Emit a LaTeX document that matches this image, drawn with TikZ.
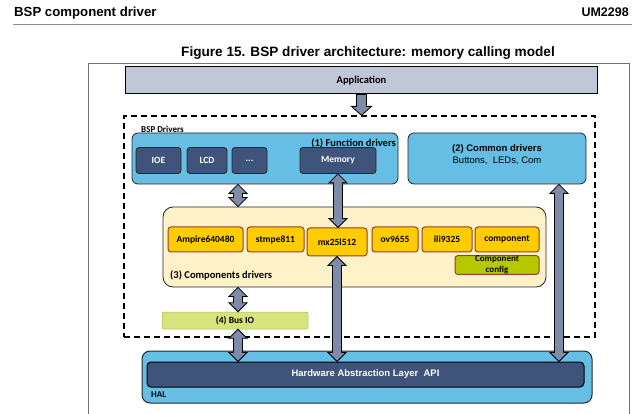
\documentclass[tikz,border=0pt]{standalone}
\usepackage{fontspec}
\setmainfont{Liberation Sans}
\newfontfamily\carlito{Carlito}
\usepackage{tikz}
\usetikzlibrary{calc}
\definecolor{skyblue}{RGB}{102,190,228}
\definecolor{navy}{RGB}{63,84,122}
\definecolor{appgray}{RGB}{192,199,214}
\definecolor{compbg}{RGB}{255,242,200}
\definecolor{compyellow}{RGB}{255,204,0}
\definecolor{compedge}{RGB}{150,62,42}
\definecolor{cfggreen}{RGB}{183,200,0}
\definecolor{busgreen}{RGB}{215,228,125}
\definecolor{arrowfill}{RGB}{126,140,170}

\begin{document}
\begin{tikzpicture}[x=1pt,y=-1pt]
    \tikzset{AppStyle/.style = {shape=rectangle, fill=appgray, draw=black, line width=1pt, inner sep=0,
                 font=\carlito\bfseries\fontsize{10.5}{12}\selectfont},
             AreaStyle/.style = {shape=rectangle, rounded corners=6, fill=skyblue, draw=black!85, line width=0.8pt, inner sep=0},
             DrvStyle/.style = {shape=rectangle, rounded corners=3, fill=navy, draw=black!85, line width=0.8pt, inner sep=0,
                 minimum height=26, text=white, font=\carlito\bfseries\fontsize{9.5}{11}\selectfont},
             CompStyle/.style = {shape=rectangle, rounded corners=3, fill=compyellow, draw=compedge, line width=1pt, inner sep=0,
                 minimum height=25, font=\carlito\bfseries\fontsize{9.5}{11}\selectfont},
             SmallLabel/.style = {inner sep=0, font=\carlito\bfseries\fontsize{9}{11}\selectfont},
             BigLabel/.style = {inner sep=0, font=\carlito\bfseries\fontsize{10.5}{12}\selectfont},
             OneArrow/.style = {fill=arrowfill, draw=black, line width=0.8pt,
                 to path={let \p1=(\tikztostart), \p2=(\tikztotarget) in
                   (\x1-5pt,\y1) -- (\x1+5pt,\y1) -- (\x1+5pt,\y2+9pt) -- ++(5pt,0pt) -- (\x1,\y2)
                   -- ++(-10pt,9pt) -- ++(5pt,0pt) -- cycle}},
             TwoArrow/.style = {fill=arrowfill, draw=black, line width=0.8pt,
                 to path={let \p1=(\tikztostart), \p2=(\tikztotarget) in
                   (\x1,\y1) -- ++(9pt,-9pt) -- ++(-4.5pt,0pt) -- (\x1+4.5pt,\y2+9pt) -- ++(4.5pt,0pt)
                   -- (\x1,\y2) -- ++(-9pt,9pt) -- ++(4.5pt,0pt) -- (\x1-4.5pt,\y1-9pt) -- ++(-4.5pt,0pt) -- cycle}}}

    \useasboundingbox (0,0) rectangle (640,414);

    % page header and caption
    \node[anchor=base west, inner sep=0, font=\bfseries\fontsize{13.2}{15}\selectfont] (head) at (14,17) {BSP component driver};
    \node[anchor=base east, inner sep=0, font=\bfseries\fontsize{12.5}{15}\selectfont] (docid) at (629,17) {UM2298};
    \draw[black!45, line width=1pt] (13,25) -- (632,25);
    \node[anchor=base, inner sep=0, font=\bfseries\fontsize{13.6}{16}\selectfont] (title) at (368,57) {Figure 15. BSP driver architecture: memory calling model};
    \draw[black!55, line width=0.8pt] (88,420) |- (629,63) -- (629,420);

    \node[AppStyle, minimum width=472, minimum height=27] (app) at (361.5,80.5) {Application};

    \node[shape=rectangle, draw=black, line width=1.2pt, dash pattern=on 6pt off 4pt, inner sep=0,
          minimum width=471, minimum height=221] (bsp) at (359.5,226.5) {};
    \node[SmallLabel, anchor=west] (bsplbl) at (141,129) {BSP Drivers};

    % (1) function drivers
    \node[AreaStyle, minimum width=266, minimum height=51] (func) at (265,158.5) {};
    \node[BigLabel, anchor=base east] (funclbl) at (396,146.5) {(1) Function drivers};
    \node[DrvStyle, minimum width=45] (ioe) at (158.5,160.5) {IOE};
    \node[DrvStyle, minimum width=40] (lcd) at (207,160.5) {LCD};
    \node[DrvStyle, minimum width=35] (etc) at (249.5,160.5) {...};
    \node[DrvStyle, minimum width=76] (mem) at (338,160.5) {Memory};

    % (2) common drivers
    \node[AreaStyle, minimum width=178, minimum height=51] (common) at (497,158.5) {};
    \node[align=center, inner sep=0, font=\fontsize{9.5}{12}\selectfont] (commonlbl) at (497,155)
        {\textbf{(2) Common drivers}\\Buttons,~ LEDs, Com};

    % (3) components drivers
    \node[shape=rectangle, rounded corners=10, fill=compbg, draw=black!85, line width=0.8pt, inner sep=0,
          minimum width=383, minimum height=80] (comps) at (354.5,247) {};
    \node[CompStyle, minimum width=75] (ampire) at (205.5,239.5) {Ampire640480};
    \node[CompStyle, minimum width=57] (stmpe) at (275.5,239.5) {stmpe811};
    \node[CompStyle, minimum width=60, minimum height=28] (mx) at (337,242) {mx25l512};
    \node[CompStyle, minimum width=46] (ov) at (395,239.5) {ov9655};
    \node[CompStyle, minimum width=50] (ili) at (447,239.5) {ili9325};
    \node[CompStyle, minimum width=64] (compo) at (507,239.5) {component};
    \node[CompStyle, fill=cfggreen, minimum width=84, minimum height=18, align=center,
          font=\carlito\bfseries\fontsize{9}{11.5}\selectfont] (cfg) at (497,265) {Component\\config};
    \node[BigLabel, anchor=base west] (compslbl) at (170,278.5) {(3) Components drivers};

    % (4) bus IO
    \node[shape=rectangle, rounded corners=2, fill=busgreen, draw=busgreen!80!black, line width=0.5pt,
          minimum width=146, minimum height=17, SmallLabel, font=\carlito\bfseries\fontsize{9.5}{11}\selectfont] (bus) at (235,320.5) {(4) Bus IO};

    % HAL
    \node[AreaStyle, rounded corners=8, line width=1pt, minimum width=450, minimum height=52] (hal) at (367,377) {};
    \node[shape=rectangle, rounded corners=4, fill=navy, draw=black, line width=1pt, inner sep=0,
          minimum width=437, minimum height=25, text=white!95, font=\bfseries\fontsize{9.5}{11}\selectfont] (api) at (365.5,374.5)
          {Hardware Abstraction Layer~ API};
    \node[SmallLabel, anchor=west] (hallbl) at (151,395) {HAL};

    % block arrows
    \coordinate (lane) at (238,0);
    \coordinate (rlane) at (559,0);
    \path[OneArrow] (app.south) to (bsp.north);
    \path[TwoArrow] (lane |- func.south) to (lane |- comps.north);
    \path[TwoArrow] (mem.south) to (mx.north);
    \path[TwoArrow] (mx.south) to (mx.south |- api.north);
    \path[TwoArrow] (lane |- comps.south) to (lane |- bus.north);
    \path[TwoArrow] (lane |- bus.south) to (lane |- api.north);
    \path[TwoArrow] (rlane |- common.south) to (rlane |- api.north);
\end{tikzpicture}
\end{document}
